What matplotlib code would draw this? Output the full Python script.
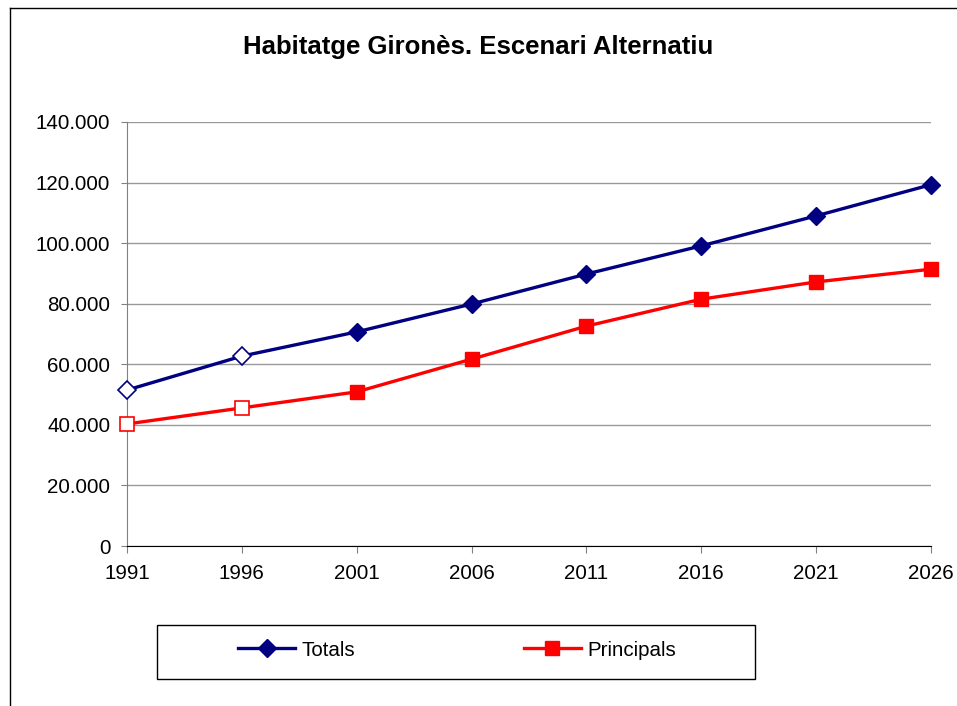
import matplotlib
matplotlib.use("Agg")
import matplotlib.pyplot as plt
from matplotlib.lines import Line2D
from matplotlib.patches import Rectangle
from matplotlib.ticker import FuncFormatter

plt.rcParams['font.family'] = ['Liberation Sans', 'DejaVu Sans']

# data
years = [1991, 1996, 2001, 2006, 2011, 2016, 2021, 2026]
totals = [51500, 62700, 70700, 79900, 89800, 99100, 109000, 119300]
principals = [40300, 45600, 50900, 61700, 72600, 81500, 87200, 91400]
n_hollow = 2  # first points drawn with empty markers

title = "Habitatge Gironès. Escenari Alternatiu"
y_ticks = [0, 20000, 40000, 60000, 80000, 100000, 120000, 140000]

navy = '#000080'
red = '#ff0000'
fs = 14.8

fig = plt.figure(figsize=(9.57, 7.06), dpi=100)
ax = fig.add_axes([0.1327, 0.2266, 0.9728 - 0.1327, 0.8272 - 0.2266])

def draw_series(y, color, marker, ms):
    ax.plot(years, y, color=color, lw=2.4, zorder=3, clip_on=False)
    ax.plot(years[:n_hollow], y[:n_hollow], ls='none', marker=marker, ms=ms,
            mfc='white', mec=color, mew=1.2, zorder=4, clip_on=False)
    ax.plot(years[n_hollow:], y[n_hollow:], ls='none', marker=marker, ms=ms,
            mfc=color, mec=color, zorder=4, clip_on=False)

draw_series(totals, navy, 'D', 8.8)
draw_series(principals, red, 's', 9.8)

ax.set_xlim(years[0], years[-1])
ax.set_ylim(0, 140000)
ax.set_xticks(years)
ax.set_yticks(y_ticks)
ax.yaxis.set_major_formatter(FuncFormatter(lambda v, p: f"{int(v):,}".replace(',', '.')))
ax.grid(axis='y', color='#999999', lw=1)
ax.set_axisbelow(True)
for s in ['top', 'right']:
    ax.spines[s].set_visible(False)
ax.spines['left'].set_color('#808080')
ax.spines['bottom'].set_color('black')
ax.tick_params(axis='y', colors='#808080', labelcolor='black', labelsize=fs,
               length=4, direction='out', pad=8)
ax.tick_params(axis='x', colors='#808080', labelcolor='black', labelsize=fs,
               length=5, direction='out', pad=8)
ax.patch.set_alpha(0)

fig.text(0.5, 0.934, title, ha='center', va='center', fontsize=18.5, fontweight='bold')

# chart area frame (left and top sides visible in the reference)
fig.add_artist(Line2D([10 / 957, 10 / 957], [0, 1 - 8 / 706], color='black', lw=1))
fig.add_artist(Line2D([10 / 957, 1], [1 - 8 / 706, 1 - 8 / 706], color='black', lw=1))

# legend box
fig.add_artist(Rectangle((157 / 957, 1 - 679 / 706), (755 - 157) / 957, (679 - 625) / 706,
                         transform=fig.transFigure, fill=False, ec='black', lw=1))
handles = [Line2D([], [], color=navy, lw=2.4, marker='D', ms=8.8),
           Line2D([], [], color=red, lw=2.4, marker='s', ms=9.8)]
fig.legend(handles, ['Totals', 'Principals'], loc='center',
           bbox_to_anchor=(457 / 957, 1 - 650 / 706), ncol=2, frameon=False,
           fontsize=fs, handlelength=2.8, handletextpad=0.3, columnspacing=8.2)

fig.savefig('out.png', dpi=100)
